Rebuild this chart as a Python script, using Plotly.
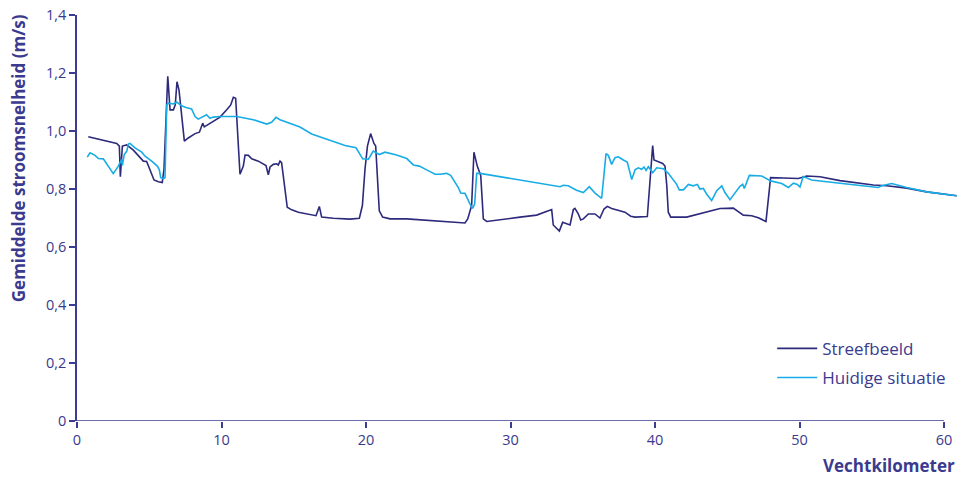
import plotly.graph_objects as go

# Streefbeeld (donkerblauw)
km_streef = [0.78, 2.75, 2.93, 3.0, 3.14, 3.44, 3.9, 4.36, 4.59, 4.82, 4.94, 5.1, 5.33, 5.63, 5.9,
             6.02, 6.16, 6.28, 6.44, 6.67, 6.8, 6.92, 7.06, 7.43, 7.7, 8.17, 8.47, 8.7, 8.81, 9.32,
             9.9, 10.36, 10.64, 10.82, 10.98, 11.28, 11.51, 11.63, 11.86, 12.09, 12.55, 13.08, 13.24,
             13.36, 13.59, 13.82, 13.93, 14.05, 14.16, 14.55, 14.86, 15.32, 16.54, 16.77, 16.93,
             17.74, 18.89, 19.54, 19.75, 19.93, 20.1, 20.32, 20.55, 20.67, 20.78, 20.92, 21.15,
             21.66, 22.82, 24.66, 25.81, 26.85, 27.04, 27.2, 27.31, 27.47, 27.7, 27.94, 28.12,
             28.35, 29.27, 30.66, 31.81, 32.85, 32.96, 33.38, 33.61, 33.89, 34.12, 34.35, 34.46,
             34.69, 34.86, 35.04, 35.39, 35.85, 36.19, 36.47, 36.7, 37.0, 37.92, 38.32, 38.62,
             39.47, 39.84, 39.93, 40.23, 40.53, 40.69, 40.81, 40.92, 41.09, 42.19, 43.34, 44.5,
             45.42, 45.88, 46.11, 46.69, 47.15, 47.68, 48.0, 48.88, 49.92, 50.5, 51.42, 52.8,
             55.11, 56.03, 57.42, 58.8, 60.88]
v_streef = [0.98, 0.957, 0.948, 0.842, 0.948, 0.952, 0.934, 0.911, 0.896, 0.895, 0.879, 0.856, 0.831,
            0.825, 0.822, 0.868, 1.073, 1.189, 1.073, 1.073, 1.09, 1.17, 1.141, 0.965, 0.976, 0.991,
            0.996, 1.027, 1.014, 1.03, 1.048, 1.073, 1.09, 1.116, 1.113, 0.851, 0.879, 0.917, 0.916,
            0.904, 0.896, 0.881, 0.849, 0.876, 0.885, 0.887, 0.883, 0.896, 0.891, 0.737, 0.728,
            0.72, 0.708, 0.74, 0.703, 0.699, 0.696, 0.699, 0.743, 0.868, 0.948, 0.991, 0.957,
            0.948, 0.856, 0.725, 0.703, 0.697, 0.697, 0.691, 0.685, 0.683, 0.697, 0.72, 0.743,
            0.927, 0.879, 0.847, 0.697, 0.688, 0.695, 0.703, 0.71, 0.729, 0.676, 0.655, 0.685,
            0.68, 0.676, 0.729, 0.733, 0.714, 0.693, 0.697, 0.714, 0.714, 0.70, 0.731, 0.74,
            0.733, 0.72, 0.706, 0.703, 0.705, 0.95, 0.90, 0.893, 0.888, 0.879, 0.816, 0.72,
            0.703, 0.703, 0.717, 0.733, 0.734, 0.717, 0.71, 0.708, 0.701, 0.688, 0.839, 0.838,
            0.836, 0.845, 0.842, 0.829, 0.814, 0.811, 0.803, 0.79, 0.777]

# Huidige situatie (lichtblauw)
km_huidig = [0.71, 0.9, 1.25, 1.48, 1.82, 2.51, 2.86, 3.09, 3.14, 3.27, 3.44, 3.55, 3.67, 4.01, 4.48,
             4.71, 5.17, 5.56, 5.7, 5.79, 5.98, 6.09, 6.21, 6.32, 6.67, 6.9, 7.24, 7.54, 7.93, 8.17,
             8.39, 8.63, 8.97, 9.2, 9.43, 9.9, 11.05, 12.2, 13.13, 13.47, 13.77, 14.05, 15.43,
             16.24, 17.28, 18.55, 19.31, 19.58, 19.77, 20.16, 20.5, 20.92, 21.31, 22.12, 22.82,
             23.28, 23.69, 24.2, 24.78, 25.12, 25.58, 25.86, 26.16, 26.39, 26.55, 26.85, 27.2,
             27.38, 27.52, 27.66, 27.89, 30.66, 33.43, 33.65, 34.0, 34.57, 35.04, 35.45, 35.85,
             36.31, 36.61, 36.77, 37.0, 37.23, 37.46, 37.81, 38.08, 38.39, 38.62, 38.84, 39.08,
             39.24, 39.38, 39.54, 39.84, 40.12, 40.58, 40.92, 41.27, 41.5, 41.68, 41.96, 42.31,
             42.65, 42.93, 43.11, 43.34, 43.58, 43.92, 44.27, 44.62, 44.84, 45.19, 45.88, 46.07,
             46.18, 46.53, 47.38, 48.0, 48.77, 49.23, 49.58, 49.85, 50.03, 50.26, 50.84, 52.8,
             55.45, 55.69, 56.38, 57.42, 58.8, 60.88]
v_huidig = [0.91, 0.925, 0.916, 0.905, 0.904, 0.853, 0.879, 0.902, 0.881, 0.919, 0.93, 0.955, 0.957,
            0.942, 0.927, 0.913, 0.896, 0.879, 0.866, 0.839, 0.836, 0.839, 1.09, 1.096, 1.093, 1.10,
            1.087, 1.081, 1.076, 1.05, 1.041, 1.048, 1.056, 1.044, 1.048, 1.05, 1.05, 1.039,
            1.024, 1.03, 1.047, 1.039, 1.014, 0.99, 0.973, 0.95, 0.942, 0.919, 0.904, 0.902,
            0.931, 0.919, 0.927, 0.917, 0.905, 0.883, 0.879, 0.866, 0.851, 0.851, 0.854, 0.847,
            0.822, 0.805, 0.786, 0.785, 0.748, 0.733, 0.748, 0.854, 0.854, 0.831, 0.808, 0.813,
            0.811, 0.796, 0.788, 0.808, 0.786, 0.768, 0.922, 0.916, 0.885, 0.908, 0.911, 0.90,
            0.893, 0.833, 0.866, 0.873, 0.868, 0.876, 0.864, 0.877, 0.856, 0.873, 0.87, 0.854,
            0.833, 0.816, 0.797, 0.797, 0.816, 0.811, 0.816, 0.80, 0.802, 0.782, 0.76, 0.794,
            0.811, 0.788, 0.763, 0.809, 0.816, 0.802, 0.847, 0.845, 0.828, 0.819, 0.805, 0.82,
            0.816, 0.807, 0.843, 0.831, 0.82, 0.805, 0.811, 0.819, 0.805, 0.79, 0.777]

y_ticks = [0, 0.2, 0.4, 0.6, 0.8, 1.0, 1.2, 1.4]
y_labels = ["0", "0,2", "0,4", "0,6", "0,8", "1,0", "1,2", "1,4"]
x_ticks = [0, 10, 20, 30, 40, 50, 60]

navy = "#2d2a7c"
lichtblauw = "#18ace6"
tekst = "#3a3a8e"
as_kleur = "#3c3c93"

fig = go.Figure()

fig.add_trace(go.Scatter(
    x=km_streef, y=v_streef, mode="lines", name="Streefbeeld", legendgroup="a",
    line=dict(color=navy, width=1.6)
))
fig.add_trace(go.Scatter(
    x=km_huidig, y=v_huidig, mode="lines", name="Huidige situatie", legendgroup="b",
    line=dict(color=lichtblauw, width=1.6)
))

# x-as lijn alleen van 0 tot 60
fig.add_shape(type="line", xref="x", yref="y", x0=0, x1=60, y0=0, y1=0,
              line=dict(color=as_kleur, width=1.5), layer="above")

fig.add_annotation(text="<b>Vechtkilometer</b>", xref="paper", yref="paper",
                   x=1.0, y=-0.077, xanchor="right", yanchor="top", showarrow=False,
                   font=dict(size=17, color=tekst))
fig.add_annotation(text="<b>Gemiddelde stroomsnelheid (m/s)</b>", xref="paper", yref="paper",
                   x=-0.067, y=1.007, xanchor="center", yanchor="top", textangle=-90,
                   showarrow=False, font=dict(size=17, color=tekst))

fig.update_layout(
    width=962, height=478,
    margin=dict(l=77, r=5, t=11, b=57),
    plot_bgcolor="white", paper_bgcolor="white",
    font=dict(family="Open Sans, sans-serif", size=14, color=tekst),
    showlegend=True,
    legend=dict(x=0.79, y=0.222, xanchor="left", yanchor="top",
                font=dict(size=17, color=tekst), bgcolor="rgba(0,0,0,0)",
                traceorder="grouped", tracegroupgap=4, itemwidth=40),
    xaxis=dict(range=[0, 60.9], tickvals=x_ticks, showgrid=False, zeroline=False,
               showline=False, ticks="outside", ticklen=6, tickwidth=1.5,
               tickcolor=as_kleur, tickfont=dict(size=14.5, color=tekst)),
    yaxis=dict(range=[0, 1.4], tickvals=y_ticks, ticktext=y_labels, showgrid=False,
               zeroline=False, showline=True, linecolor=as_kleur, linewidth=1.5,
               ticks="outside", ticklen=6, tickwidth=1.5, tickcolor=as_kleur,
               tickfont=dict(size=14.5, color=tekst)),
)

fig.write_html("out.html", config={"displayModeBar": False},
               post_script="document.body.style.margin = '0px';")
